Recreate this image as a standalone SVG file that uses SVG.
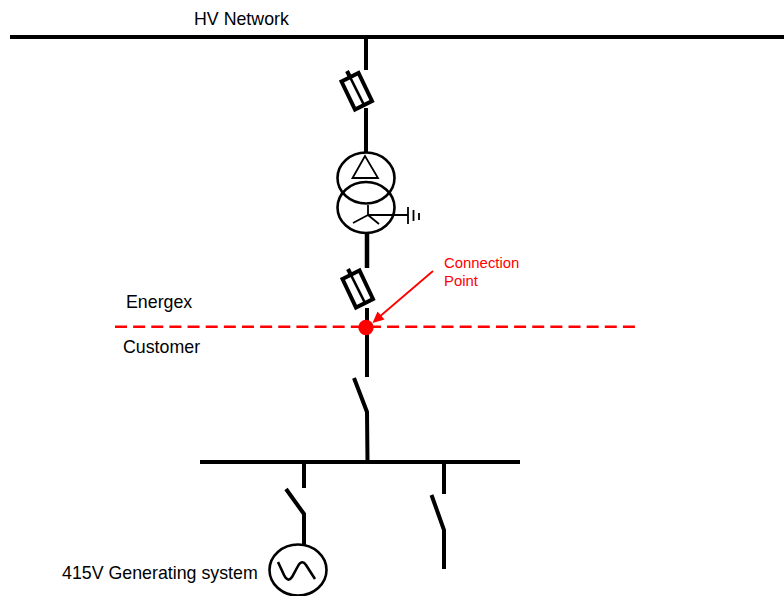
<svg xmlns="http://www.w3.org/2000/svg" width="784" height="596" viewBox="0 0 784 596">
<style>
text{font-family:"Liberation Sans",Arial,sans-serif;font-size:17.8px;fill:#000}
.r{fill:#f00;font-size:14.9px}
.l{fill:none;stroke:#000;stroke-width:4}
.t{fill:none;stroke:#000;stroke-width:2.600}
.f{fill:none;stroke:#000;stroke-width:4}
.n{fill:none;stroke:#000;stroke-width:1.800}
</style>
<rect width="784" height="596" fill="#fff"/>
<g id="connectors">
<path class="l" d="M10 37H784"/>
<path class="l" d="M366 37V70"/>
<path class="l" d="M366 108V152"/>
<path class="l" d="M367 234V268" style="stroke-width:4.500"/>
<path class="l" d="M367 308V377"/>
<path class="l" d="M354 378L367 412L367.500 462"/>
<path class="l" d="M200 462H520"/>
<path class="l" d="M304 462V488"/>
<path class="l" d="M286 489L304 514V545"/>
<path class="l" d="M444 462V494"/>
<path class="l" d="M431.500 495L444 530V569"/>
</g>
<g id="fuse1">
<path class="f" d="M341.500 81.500L358.500 73L372 101L355 109.500Z"/>
<path class="f" d="M350 77L364 105" style="stroke-width:2.600"/>
<path class="f" d="M347 71L350 77"/>
</g>
<g id="fuse2">
<path class="f" d="M342.500 279L359.500 270.500L373 299L356 307.500Z"/>
<path class="f" d="M351 275L365 303" style="stroke-width:2.600"/>
<path class="f" d="M348 269L351 275"/>
</g>
<g id="transformer">
<ellipse class="t" cx="366" cy="178" rx="28.500" ry="25.500"/>
<ellipse class="t" cx="366" cy="207.500" rx="28.500" ry="25.500"/>
<path class="n" d="M365 156L352.500 178H378Z"/>
<path class="n" d="M368 205V215L353 223M368 215L379 224M368 215H408"/>
<path class="n" d="M408 207V224M413.500 210V221M419 213V220"/>
</g>
<g id="boundary">
<path d="M115 326.700H635" fill="none" stroke="#f00" stroke-width="2.600" stroke-dasharray="12 6.140"/>
</g>
<g id="connection-point">
<circle cx="366" cy="327.500" r="7.700" fill="#f00"/>
<path d="M433 271L378 318" stroke="#f00" stroke-width="1.800" fill="none"/>
<path d="M372.500 323L377.500 311.500L384.500 319.500Z" fill="#f00"/>
<text class="r" x="444" y="268">Connection</text>
<text class="r" x="444" y="286">Point</text>
</g>
<g id="generator">
<ellipse class="t" cx="298" cy="570" rx="28.500" ry="25.500"/>
<path class="t" d="M278 562L284 575Q288 583 292 577L298 566Q302 559 306 565L315 579"/>
<text x="62" y="578.500">415V Generating system</text>
</g>
<g id="labels">
<text x="194" y="24.500">HV Network</text>
<text x="126" y="307.500">Energex</text>
<text x="123" y="353">Customer</text>
</g>
</svg>
